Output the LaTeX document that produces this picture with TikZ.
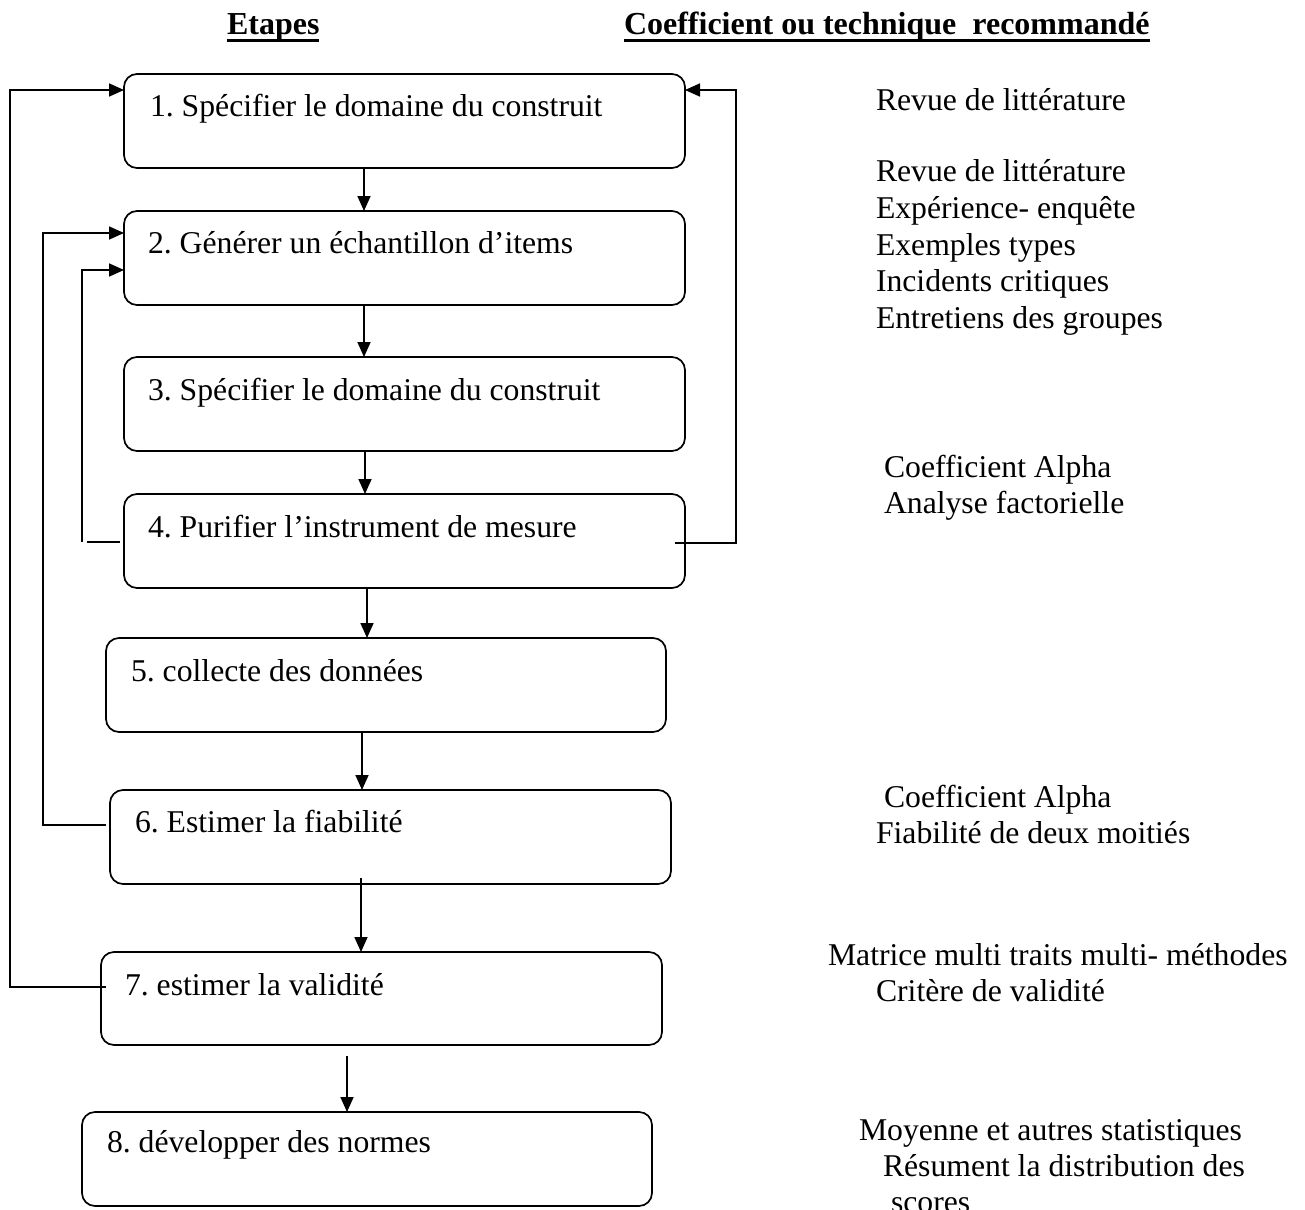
\documentclass[tikz,border=0pt]{standalone}
\usepackage{fontspec}
\setmainfont{Liberation Serif}
\usetikzlibrary{arrows.meta}
\frenchspacing

\begin{document}
\begin{tikzpicture}[x=1pt,y=-1pt,
  stepbox/.style={draw, line width=1.7pt, rounded corners=13pt, anchor=north west,
                  inner sep=0pt, outer sep=0pt, minimum height=94pt},
  steptext/.style={anchor=base west, inner sep=0pt, outer sep=0pt,
                   font=\fontsize{31.7}{36.5}\selectfont},
  headtext/.style={anchor=base west, inner sep=0pt, outer sep=0pt,
                   font=\fontsize{32}{38}\selectfont\bfseries},
  link/.style={line width=1.7pt},
  arr/.style={link, -{Triangle[length=15pt,width=13pt]}}
]
\useasboundingbox (0,0) rectangle (1305,1209);

% column headings
\node[headtext] (h1) at (227,35) {Etapes};
\node[headtext] (h2) at (624,35) {Coefficient ou technique~ recommandé};
\draw[line width=3pt] ([yshift=-6pt]h1.base west) -- ([yshift=-6pt]h1.base east);
\draw[line width=3pt] ([yshift=-6pt]h2.base west) -- ([yshift=-6pt]h2.base east);

% step boxes
\node[stepbox, minimum width=561pt] (b1) at (124,74) {};
\node[stepbox, minimum width=561pt] (b2) at (124,211) {};
\node[stepbox, minimum width=561pt] (b3) at (124,357) {};
\node[stepbox, minimum width=561pt] (b4) at (124,494) {};
\node[stepbox, minimum width=560pt] (b5) at (106,638) {};
\node[stepbox, minimum width=561pt] (b6) at (110,790) {};
\node[stepbox, minimum width=561pt, minimum height=93pt] (b7) at (101,952) {};
\node[stepbox, minimum width=570pt] (b8) at (82,1112) {};

% step labels
\node[steptext] (t1) at ([xshift=26pt,yshift=-43pt]b1.north west) {1. Spécifier le domaine du construit};
\node[steptext] (t2) at ([xshift=24pt,yshift=-42pt]b2.north west) {2. Générer un échantillon d’items};
\node[steptext] (t3) at ([xshift=24pt,yshift=-43pt]b3.north west) {3. Spécifier le domaine du construit};
\node[steptext] (t4) at ([xshift=24pt,yshift=-43pt]b4.north west) {4. Purifier l’instrument de mesure};
\node[steptext] (t5) at ([xshift=25pt,yshift=-43pt]b5.north west) {5. collecte des données};
\node[steptext] (t6) at ([xshift=25pt,yshift=-42pt]b6.north west) {6. Estimer la fiabilité};
\node[steptext] (t7) at ([xshift=24pt,yshift=-43pt]b7.north west) {7. estimer la validité};
\node[steptext] (t8) at ([xshift=25pt,yshift=-40pt]b8.north west) {8. développer des normes};

% main flow
\draw[arr] ([xshift=240pt]b1.south west) -- ([xshift=240pt]b2.north west);
\draw[arr] ([xshift=240pt]b2.south west) -- ([xshift=240pt]b3.north west);
\draw[arr] ([xshift=241pt]b3.south west) -- ([xshift=241pt]b4.north west);
\draw[arr] ([xshift=243pt]b4.south west) -- ([xshift=261pt]b5.north west);
\draw[arr] ([xshift=256pt]b5.south west) -- ([xshift=252pt]b6.north west);
\draw[arr] ([xshift=251pt,yshift=6pt]b6.south west) -- ([xshift=260pt]b7.north west);
\draw[arr] ([xshift=246pt,yshift=-11pt]b7.south west) -- ([xshift=265pt]b8.north west);

% feedback loops
\coordinate (lx1) at (10,500);
\coordinate (lx2) at (43,500);
\coordinate (lx3) at (82,500);
\coordinate (rx1) at (736,300);
\draw[arr] ([xshift=5pt,yshift=-35pt]b7.north west) -| (lx1) |- ([yshift=-16pt]b1.north west);
\draw[arr] ([xshift=-4pt,yshift=-35pt]b6.north west) -| (lx2) |- ([yshift=-22pt]b2.north west);
\draw[link] ([xshift=-4pt,yshift=-48pt]b4.north west) -- ([xshift=-37pt,yshift=-48pt]b4.north west);
\draw[arr] ([xshift=-42pt,yshift=-48pt]b4.north west) -- (lx3) |- ([yshift=-59pt]b2.north west);
\draw[arr] ([xshift=-10pt,yshift=-49pt]b4.north east) -| (rx1) |- ([yshift=-16pt]b1.north east);

% recommended coefficients and techniques
\node[steptext] (c1)  at (876,111)  {Revue de littérature};
\node[steptext] (c2a) at (876,182)  {Revue de littérature};
\node[steptext] (c2b) at (876,218)  {Expérience- enquête};
\node[steptext] (c2c) at (876,255)  {Exemples types};
\node[steptext] (c2d) at (876,291)  {Incidents critiques};
\node[steptext] (c2e) at (876,328)  {Entretiens des groupes};
\node[steptext] (c3a) at (884,477)  {Coefficient Alpha};
\node[steptext] (c3b) at (884,513)  {Analyse factorielle};
\node[steptext] (c4a) at (884,807)  {Coefficient Alpha};
\node[steptext] (c4b) at (876,843)  {Fiabilité de deux moitiés};
\node[steptext] (c5a) at (828,965)  {Matrice multi traits multi- méthodes};
\node[steptext] (c5b) at (876,1001) {Critère de validité};
\node[steptext] (c6a) at (859,1140) {Moyenne et autres statistiques};
\node[steptext] (c6b) at (883,1176) {Résument la distribution des};
\node[steptext] (c6c) at (891,1212) {scores};
\end{tikzpicture}
\end{document}
